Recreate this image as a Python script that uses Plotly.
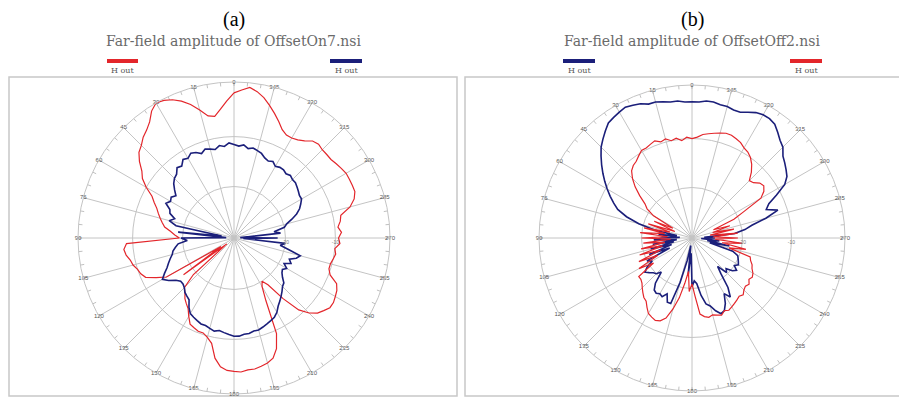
import plotly.graph_objects as go

# ---------------- data (r as fraction of outer ring, theta ccw from top, 3 deg step) ----------------
theta_deg = list(range(0, 360, 3))

a_red = [0.93, 0.88, 0.83, 0.79, 0.80, 0.85, 0.90, 0.94, 0.97, 0.99,
         1.00, 0.97, 0.92, 0.89, 0.87, 0.84, 0.82, 0.78, 0.73, 0.70,
         0.65, 0.59, 0.56, 0.53, 0.51, 0.49, 0.47, 0.45, 0.41, 0.38,
         0.35, 0.69, 0.71, 0.70, 0.68, 0.67, 0.65, 0.64, 0.62, 0.56,
         0.50, 0.10, 0.40, 0.06, 0.35, 0.45, 0.47, 0.50, 0.52, 0.54,
         0.58, 0.62, 0.63, 0.64, 0.64, 0.66, 0.69, 0.78, 0.83, 0.85,
         0.855, 0.86, 0.85, 0.85, 0.84, 0.83, 0.81, 0.76, 0.67, 0.45,
         0.36, 0.33, 0.37, 0.50, 0.62, 0.68, 0.72, 0.74, 0.76, 0.76,
         0.75, 0.74, 0.72, 0.66, 0.64, 0.64, 0.65, 0.66, 0.65, 0.68,
         0.67, 0.69, 0.67, 0.69, 0.70, 0.77, 0.81, 0.83, 0.83, 0.83,
         0.83, 0.82, 0.81, 0.80, 0.80, 0.80, 0.81, 0.80, 0.77, 0.75,
         0.74, 0.74, 0.76, 0.80, 0.84, 0.88, 0.92, 0.95, 0.97, 0.95]

a_blue = [0.60, 0.61, 0.59, 0.60, 0.58, 0.59, 0.60, 0.58, 0.60, 0.61,
          0.59, 0.60, 0.57, 0.58, 0.55, 0.54, 0.52, 0.49, 0.46, 0.48,
          0.47, 0.49, 0.45, 0.44, 0.40, 0.43, 0.38, 0.08, 0.36, 0.05,
          0.34, 0.30, 0.36, 0.38, 0.40, 0.41, 0.43, 0.45, 0.47, 0.50,
          0.53, 0.50, 0.46, 0.44, 0.44, 0.45, 0.47, 0.48, 0.49, 0.53,
          0.56, 0.57, 0.58, 0.59, 0.59, 0.60, 0.61, 0.60, 0.61, 0.62,
          0.63, 0.63, 0.62, 0.62, 0.61, 0.61, 0.60, 0.59, 0.58, 0.57,
          0.55, 0.52, 0.50, 0.48, 0.46, 0.44, 0.43, 0.40, 0.38, 0.37,
          0.39, 0.36, 0.40, 0.38, 0.42, 0.44, 0.36, 0.30, 0.33, 0.06,
          0.28, 0.04, 0.30, 0.26, 0.33, 0.35, 0.39, 0.43, 0.46, 0.48,
          0.50, 0.50, 0.51, 0.52, 0.53, 0.53, 0.54, 0.53, 0.54, 0.54,
          0.53, 0.55, 0.54, 0.55, 0.57, 0.58, 0.59, 0.58, 0.60, 0.59]

b_blue = [0.89, 0.89, 0.90, 0.90, 0.91, 0.92, 0.92, 0.94, 0.95, 0.96,
          0.95, 0.94, 0.93, 0.90, 0.87, 0.84, 0.80, 0.76, 0.72, 0.68,
          0.64, 0.60, 0.56, 0.52, 0.45, 0.36, 0.25, 0.10, 0.22, 0.08,
          0.20, 0.25, 0.10, 0.26, 0.12, 0.28, 0.14, 0.30, 0.16, 0.33,
          0.30, 0.35, 0.38, 0.36, 0.34, 0.33, 0.30, 0.38, 0.42, 0.43,
          0.42, 0.43, 0.40, 0.45, 0.45, 0.30, 0.15, 0.05, 0.25, 0.10,
          0.32, 0.28, 0.30, 0.38, 0.44, 0.46, 0.50, 0.53, 0.52, 0.48,
          0.42, 0.46, 0.40, 0.30, 0.25, 0.32, 0.30, 0.34, 0.36, 0.33,
          0.35, 0.34, 0.33, 0.32, 0.28, 0.12, 0.25, 0.10, 0.18, 0.06,
          0.15, 0.08, 0.28, 0.35, 0.40, 0.50, 0.59, 0.52, 0.55, 0.62,
          0.70, 0.74, 0.76, 0.78, 0.80, 0.84, 0.86, 0.89, 0.92, 0.93,
          0.93, 0.92, 0.90, 0.88, 0.88, 0.89, 0.89, 0.90, 0.90, 0.89]

b_red = [0.65, 0.66, 0.64, 0.66, 0.65, 0.67, 0.66, 0.68, 0.67, 0.66,
         0.66, 0.64, 0.62, 0.61, 0.59, 0.55, 0.50, 0.44, 0.38, 0.35,
         0.29, 0.14, 0.27, 0.12, 0.30, 0.15, 0.32, 0.18, 0.34, 0.16,
         0.33, 0.14, 0.32, 0.18, 0.34, 0.20, 0.36, 0.22, 0.38, 0.25,
         0.40, 0.30, 0.43, 0.43, 0.44, 0.46, 0.48, 0.50, 0.51, 0.54,
         0.57, 0.58, 0.59, 0.58, 0.55, 0.48, 0.40, 0.30, 0.22, 0.35,
         0.30, 0.38, 0.50, 0.52, 0.53, 0.52, 0.53, 0.54, 0.52, 0.53,
         0.52, 0.51, 0.50, 0.49, 0.50, 0.48, 0.47, 0.48, 0.46, 0.47,
         0.46, 0.44, 0.43, 0.41, 0.40, 0.25, 0.36, 0.20, 0.33, 0.15,
         0.30, 0.14, 0.30, 0.12, 0.28, 0.14, 0.26, 0.15, 0.30, 0.38,
         0.52, 0.56, 0.58, 0.57, 0.54, 0.53, 0.58, 0.62, 0.65, 0.67,
         0.68, 0.70, 0.71, 0.72, 0.72, 0.71, 0.70, 0.69, 0.68, 0.66]

angle_ticks = list(range(0, 360, 15))
angle_labels = [str(a) for a in angle_ticks]
ring_vals = [0.33, 0.65, 1.0]
ring_labels = ["-20", "-10", ""]
minor_tick_angles = list(range(0, 360, 5))

titles = ["(a)", "(b)"]
subtitles = ["Far-field amplitude of OffsetOn7.nsi", "Far-field amplitude of OffsetOff2.nsi"]
legend_names = [["H out", "H out"], ["H out", "H out"]]

RED = "#e3262b"
BLUE = "#1b1f7a"
GRID = "#c4c4c4"

# page offset: the browser body has an 8px margin
OFF = 8
W, H = 907 - OFF, 398 - OFF


def xp(p):
    return (p - OFF) / W


def yp(p):
    return 1 - (p - OFF) / H


def closed(v):
    return list(v) + [v[0]]


th = closed(theta_deg)

fig = go.Figure()

mt_r, mt_t = [], []
for a in minor_tick_angles:
    mt_r += [0.975, 1.0, None]
    mt_t += [a, a, None]

for sub in ["polar", "polar2"]:
    fig.add_trace(go.Scatterpolar(r=mt_r, theta=mt_t, mode="lines",
                                  line=dict(color="#b0b0b0", width=0.8),
                                  hoverinfo="skip", showlegend=False, subplot=sub))
    fig.add_trace(go.Scatterpolar(r=[1.0] * len(angle_ticks), theta=angle_ticks, mode="text",
                                  text=angle_labels, textposition="middle center",
                                  textfont=dict(size=6, color="#555555", family="Liberation Sans"),
                                  cliponaxis=False, hoverinfo="skip", showlegend=False, subplot=sub))

fig.add_trace(go.Scatterpolar(r=closed(a_red), theta=th, mode="lines",
                              line=dict(color=RED, width=1.2), subplot="polar", showlegend=False))
fig.add_trace(go.Scatterpolar(r=closed(a_blue), theta=th, mode="lines",
                              line=dict(color=BLUE, width=1.6), subplot="polar", showlegend=False))
fig.add_trace(go.Scatterpolar(r=closed(b_blue), theta=th, mode="lines",
                              line=dict(color=BLUE, width=1.6), subplot="polar2", showlegend=False))
fig.add_trace(go.Scatterpolar(r=closed(b_red), theta=th, mode="lines",
                              line=dict(color=RED, width=1.2), subplot="polar2", showlegend=False))


def polar_layout(cx, cy, R):
    return dict(
        domain=dict(x=[xp(cx - R), xp(cx + R)], y=[yp(cy + R), yp(cy - R)]),
        bgcolor="white",
        angularaxis=dict(rotation=90, direction="counterclockwise",
                         tickmode="array", tickvals=angle_ticks, showticklabels=False,
                         showline=True, linecolor=GRID, linewidth=1,
                         gridcolor=GRID, gridwidth=0.8, ticks=""),
        radialaxis=dict(range=[0, 1.0], tickmode="array", tickvals=ring_vals, ticktext=ring_labels,
                        angle=0, tickangle=0, showline=False,
                        tickfont=dict(size=5, color="#777", family="Liberation Sans"),
                        gridcolor=GRID, gridwidth=0.8, ticks=""),
    )


fig.update_layout(
    width=W, height=H,
    margin=dict(l=0, r=0, t=0, b=0),
    paper_bgcolor="white", plot_bgcolor="white",
    polar=polar_layout(234, 238, 156),
    polar2=polar_layout(692, 238, 153),
    showlegend=False,
)

shapes = []
annotations = []
for (x0, x1) in [(9, 457), (465, 904)]:
    shapes.append(dict(type="rect", xref="paper", yref="paper",
                       x0=xp(x0), x1=xp(x1), y0=yp(396), y1=yp(77),
                       line=dict(color="#c8c8c8", width=1.5), layer="below"))

centers = [234, 692]
legend_pos = [[(107, 138, RED), (330, 362, BLUE)], [(563, 595, BLUE), (790, 822, RED)]]
for i in range(2):
    annotations.append(dict(text=titles[i], x=xp(centers[i]), y=yp(19), xref="paper", yref="paper",
                            xanchor="center", yanchor="middle", showarrow=False,
                            font=dict(size=20, color="black", family="Liberation Serif")))
    annotations.append(dict(text=subtitles[i], x=xp(centers[i]), y=yp(41), xref="paper", yref="paper",
                            xanchor="center", yanchor="middle", showarrow=False,
                            font=dict(size=14, color="#6a6a6a", family="DejaVu Serif")))
    for j, (x0, x1, col) in enumerate(legend_pos[i]):
        shapes.append(dict(type="line", xref="paper", yref="paper",
                           x0=xp(x0), x1=xp(x1), y0=yp(61), y1=yp(61),
                           line=dict(color=col, width=4)))
        annotations.append(dict(text=legend_names[i][j], x=xp((x0 + x1) / 2), y=yp(71),
                                xref="paper", yref="paper", xanchor="center", yanchor="middle",
                                showarrow=False,
                                font=dict(size=8, color="#555", family="DejaVu Serif")))

fig.update_layout(shapes=shapes, annotations=annotations)
fig.write_html("out.html")
